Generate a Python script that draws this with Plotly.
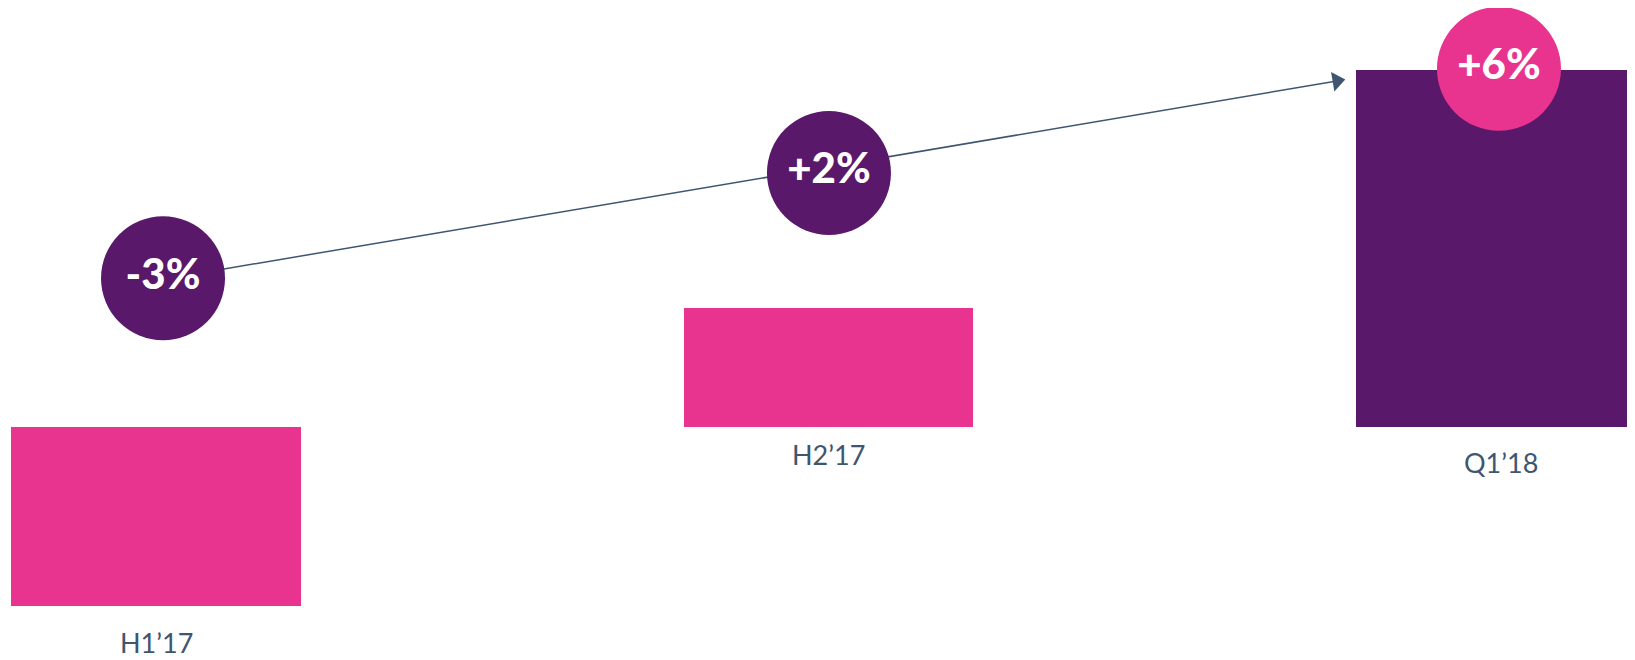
import plotly.graph_objects as go

categories = ["H1’17", "H2’17", "Q1’18"]
values = [-3, 2, 6]
change_labels = ["-3%", "+2%", "+6%"]
bubble_x = [0.0104, 1.0007, 1.997]
bubble_y = [2.5, 4.27, 6.02]
label_y = [-3.63, -0.47, -0.59]
arrow_x = [0.101, 1.756]
arrow_y = [2.655, 5.815]

PINK = "#E8348F"
PURPLE = "#5A186B"
SLATE = "#3E5670"
bar_colors = [PINK, PINK, PURPLE]
bubble_colors = [PURPLE, PURPLE, PINK]

x_pos = list(range(len(categories)))

fig = go.Figure()
fig.add_trace(go.Bar(
    x=x_pos, y=values, base=0, width=0.431,
    marker=dict(color=bar_colors, line=dict(width=0)),
    hoverinfo="skip", showlegend=False,
))
fig.add_trace(go.Scatter(
    x=arrow_x, y=arrow_y, mode="lines",
    line=dict(color=SLATE, width=1.5), hoverinfo="skip", showlegend=False,
))
fig.add_trace(go.Scatter(
    x=[arrow_x[-1]], y=[arrow_y[-1]], mode="markers",
    marker=dict(symbol="triangle-right", size=17, color=SLATE, angle=-9.6,
                line=dict(width=0)),
    hoverinfo="skip", showlegend=False,
))
fig.add_trace(go.Scatter(
    x=bubble_x, y=bubble_y, mode="markers+text",
    marker=dict(size=124, color=bubble_colors, line=dict(width=0), opacity=1),
    text=change_labels, textposition="middle center",
    textfont=dict(family="Lato", size=42, color="white", weight=900),
    hoverinfo="skip", showlegend=False,
))

for xi, cat, ly in zip(x_pos, categories, label_y):
    fig.add_annotation(x=xi, y=ly, text=cat, showarrow=False,
                       font=dict(family="Lato", size=27, color=SLATE),
                       xanchor="center", yanchor="middle")

fig.update_layout(
    width=1627, height=652,
    margin=dict(l=0, r=0, t=0, b=0),
    paper_bgcolor="white", plot_bgcolor="white",
    xaxis=dict(range=[-0.2201, 2.1993], visible=False, fixedrange=True),
    yaxis=dict(range=[-3.916, 7.042], visible=False, fixedrange=True),
    bargap=0,
)
fig.write_html("out.html")
